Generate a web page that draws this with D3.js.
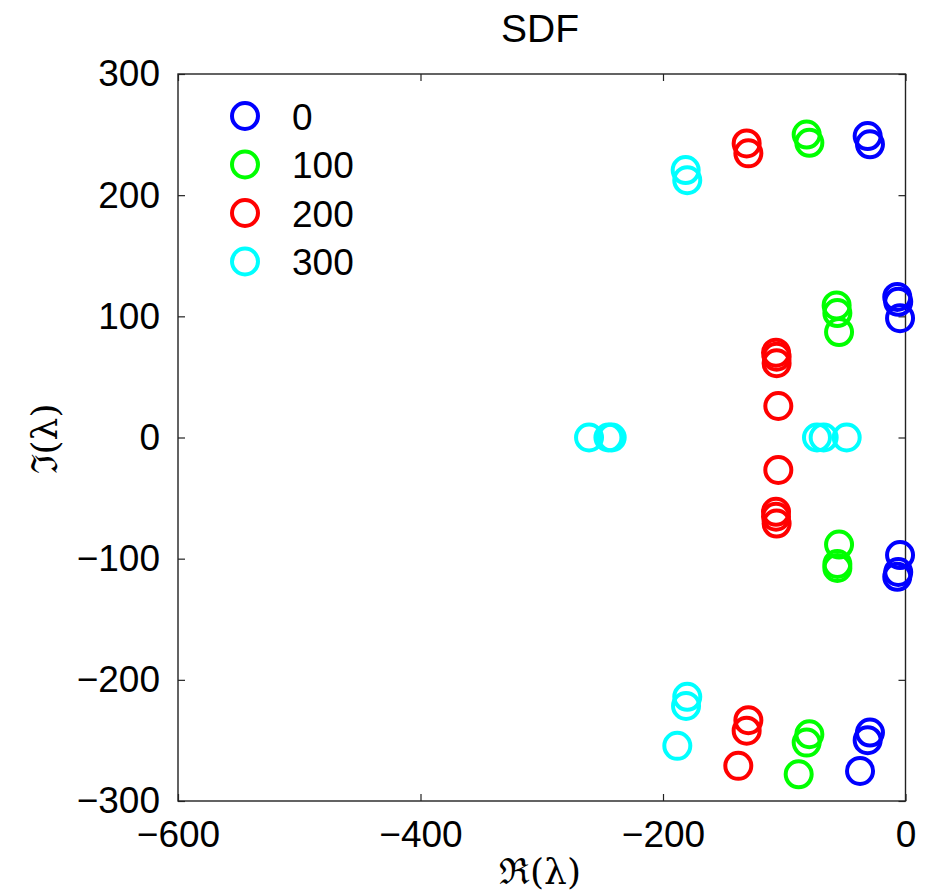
<!DOCTYPE html>
<html>
<head>
<meta charset="utf-8">
<script src="https://cdn.jsdelivr.net/npm/d3@7"></script>
<style>
  html, body { margin: 0; padding: 0; background: #fff; }
  svg { display: block; }
  text { font-family: "Liberation Sans", Arial, Helvetica, sans-serif; fill: #000; }
</style>
</head>
<body>
<svg id="chart" width="928" height="896"></svg>
<script>
// Eigenvalue sets (real, imaginary) for each parameter value
const seriesNames = ["0", "100", "200", "300"];
const seriesColors = ["#0000ff", "#00ff00", "#ff0000", "#00ffff"];

const re0 = [-31.2, -29.3, -6.8, -6.0, -4.5, -4.5, -6.0, -6.8, -29.3, -31.2, -37.5];
const im0 = [248.8, 242.0, 116.0, 112.0, 98.5, -97.0, -111.0, -115.0, -243.5, -249.8, -275.2];

const re1 = [-81.5, -79.3, -56.8, -56.2, -54.8, -54.8, -56.2, -56.2, -79.3, -81.5, -88.1];
const im1 = [250.0, 243.2, 109.0, 102.7, 87.0, -88.4, -104.4, -107.7, -244.9, -251.8, -278.0];

const re2 = [-131.0, -129.6, -106.8, -106.3, -106.3, -104.9, -104.9, -106.8, -106.8, -106.3, -129.6, -131.0, -137.9];
const im2 = [242.7, 234.5, 70.0, 66.7, 61.3, 26.0, -26.8, -61.3, -65.4, -71.0, -233.3, -242.0, -271.0];

const re3 = [-181.3, -180.0, -261.0, -245.0, -242.3, -73.0, -67.5, -48.5, -180.0, -181.0, -188.2];
const im3 = [220.7, 212.4, 0, 0, 0, 0, 0, 0, -214.0, -221.5, -254.5];

const reSets = [re0, re1, re2, re3];
const imSets = [im0, im1, im2, im3];

const xTicks = [-600, -400, -200, 0];
const yTicks = [-300, -200, -100, 0, 100, 200, 300];

const titleText = "SDF";
const xLabel = "\u211C(\u03BB)";
const yLabel = "\u2111(\u03BB)";

// Layout
const plot = { left: 178, top: 74, right: 905.5, bottom: 801 };
const svg = d3.select("#chart");

const x = d3.scaleLinear().domain([-600, 0]).range([plot.left, plot.right]);
const y = d3.scaleLinear().domain([-300, 300]).range([plot.bottom, plot.top]);

const tickFont = 37;
const tickLen = 7;

// Frame
svg.append("rect")
  .attr("x", plot.left).attr("y", plot.top)
  .attr("width", plot.right - plot.left).attr("height", plot.bottom - plot.top)
  .attr("fill", "none").attr("stroke", "#222").attr("stroke-width", 1.4);

// Axes with inward ticks on all four sides
function styleAxis(g) {
  g.select(".domain").remove();
  g.selectAll(".tick line").attr("stroke", "#222").attr("stroke-width", 1.2);
  g.selectAll(".tick text")
    .attr("font-size", tickFont)
    .attr("font-family", "'Liberation Sans', Arial, sans-serif")
    .attr("fill", "#000");
}

const fmt = d => d < 0 ? "\u2212" + Math.abs(d) : String(d);

svg.append("g")
  .attr("transform", `translate(0,${plot.bottom})`)
  .call(d3.axisBottom(x).tickValues(xTicks).tickFormat(fmt).tickSizeInner(-tickLen).tickSizeOuter(0).tickPadding(20))
  .call(styleAxis);

svg.append("g")
  .attr("transform", `translate(0,${plot.top})`)
  .call(d3.axisTop(x).tickValues(xTicks).tickFormat("").tickSizeInner(-tickLen).tickSizeOuter(0))
  .call(styleAxis);

svg.append("g")
  .attr("transform", `translate(${plot.left},0)`)
  .call(d3.axisLeft(y).tickValues(yTicks).tickFormat(fmt).tickSizeInner(-tickLen).tickSizeOuter(0).tickPadding(18))
  .call(styleAxis);

svg.append("g")
  .attr("transform", `translate(${plot.right},0)`)
  .call(d3.axisRight(y).tickValues(yTicks).tickFormat("").tickSizeInner(-tickLen).tickSizeOuter(0))
  .call(styleAxis);

// Markers
const markerR = 13;
const markerW = 4;
reSets.forEach((re, i) => {
  const pts = re.map((r, j) => [r, imSets[i][j]]);
  svg.append("g")
    .selectAll("circle")
    .data(pts)
    .join("circle")
    .attr("cx", d => x(d[0]))
    .attr("cy", d => y(d[1]))
    .attr("r", markerR)
    .attr("fill", "none")
    .attr("stroke", seriesColors[i])
    .attr("stroke-width", markerW);
});

// Legend
const legend = svg.append("g");
seriesNames.forEach((name, i) => {
  const cy = 116 + i * 48.5;
  legend.append("circle")
    .attr("cx", 245).attr("cy", cy).attr("r", markerR)
    .attr("fill", "none").attr("stroke", seriesColors[i]).attr("stroke-width", markerW);
  legend.append("text")
    .attr("x", 292).attr("y", cy + 13.5)
    .attr("font-size", tickFont)
    .text(name);
});

// Title
svg.append("text")
  .attr("x", 540).attr("y", 42)
  .attr("text-anchor", "middle")
  .attr("font-size", 39)
  .text(titleText);

// Axis labels
svg.append("text")
  .attr("x", 540).attr("y", 884)
  .attr("text-anchor", "middle")
  .attr("font-size", 36)
  .style("font-family", "'DejaVu Serif', serif")
  .text(xLabel);

svg.append("text")
  .attr("transform", "translate(57,439) rotate(-90)")
  .attr("text-anchor", "middle")
  .attr("font-size", 36)
  .style("font-family", "'DejaVu Serif', serif")
  .text(yLabel);
</script>
</body>
</html>
